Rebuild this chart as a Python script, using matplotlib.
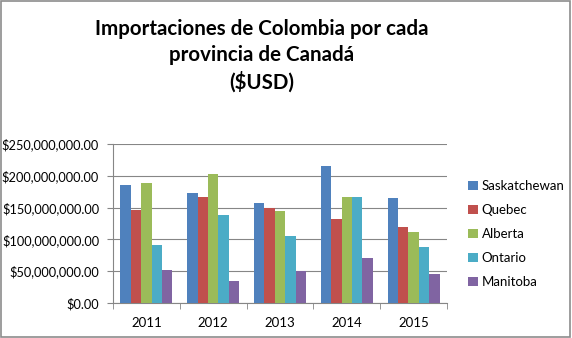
import numpy as np
import matplotlib.pyplot as plt
from matplotlib.patches import Rectangle
from matplotlib.ticker import FuncFormatter

plt.rcParams['font.family'] = ['Lato', 'DejaVu Sans']

# Imports by year and province (millions of USD)
years = ['2011', '2012', '2013', '2014', '2015']
provinces = ['Saskatchewan', 'Quebec', 'Alberta', 'Ontario', 'Manitoba']
saskatchewan = [185.5, 173.0, 158.0, 215.0, 164.5]
quebec = [145.5, 166.0, 149.0, 131.5, 119.0]
alberta = [189.0, 203.0, 144.5, 166.5, 111.5]
ontario = [91.0, 138.0, 106.0, 166.5, 87.5]
manitoba = [52.0, 34.5, 50.0, 70.0, 45.5]
series = [saskatchewan, quebec, alberta, ontario, manitoba]
colors = ['#4F81BD', '#C0504D', '#9BBB59', '#4BACC6', '#8064A2']

fig = plt.figure(figsize=(5.72, 3.38), dpi=100)
fig.patches.append(Rectangle((0.002, 0.003), 0.995, 0.994, transform=fig.transFigure,
                             fill=False, edgecolor='#8c8c8c', linewidth=1.2))

ax = fig.add_axes([113 / 572, 1 - 303 / 338, (447 - 113) / 572, (303 - 144) / 338])

x = np.arange(len(years))
w = 0.156
for i, (vals, name, c) in enumerate(zip(series, provinces, colors)):
    ax.bar(x + (i - 2) * w, np.array(vals) * 1e6, width=w, color=c, label=name, zorder=3)

ax.set_xlim(-0.5, len(years) - 0.5)
ax.set_ylim(0, 250e6)
ax.set_yticks(np.arange(0, 250e6 + 1, 50e6))
ax.yaxis.set_major_formatter(FuncFormatter(lambda v, p: f'${v:,.2f}'))
ax.set_xticks(x)
ax.set_xticklabels(years)
ax.set_xticks(np.arange(-0.5, len(years)), minor=True)
ax.tick_params(axis='x', which='major', length=0, pad=10, labelsize=9.5)
ax.tick_params(axis='x', which='minor', length=4, color='#868686')
ax.tick_params(axis='y', length=4, color='#868686', labelsize=9.2, pad=6)
ax.grid(axis='y', color='#868686', linewidth=0.8, zorder=0)

for s in ['top', 'right']:
    ax.spines[s].set_visible(False)
for s in ['left', 'bottom']:
    ax.spines[s].set_color('#868686')

fig.text(0.457, 0.945, 'Importaciones de Colombia por cada\nprovincia de Canadá\n($USD)',
         ha='center', va='top', fontsize=14.8, fontweight='bold', linespacing=1.38)

fig.legend(loc='upper left', bbox_to_anchor=(463 / 572, 1 - 175 / 338), frameon=False,
           fontsize=9.5, handlelength=0.7, handleheight=0.7, handletextpad=0.3,
           labelspacing=0.9, borderaxespad=0)

fig.savefig('out.png', dpi=100)
